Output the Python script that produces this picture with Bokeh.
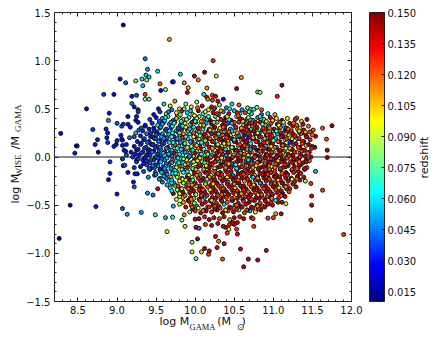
from bokeh.plotting import figure
from bokeh.models import (ColumnDataSource, LinearColorMapper, ColorBar, FixedTicker, LinearAxis,
                          Range1d, Label, PrintfTickFormatter, Span)
from bokeh.embed import file_html
from bokeh.resources import INLINE

# isolated points
mass = [9.08,9.67,9.36,9.39,9.52,9.04,9.11,9.24,9.32,9.37,9.41,9.38,9.33,9.55,9.71,9.72,9.81,9.86,9.99,10.04,9.91,9.90,9.56,9.62,
8.83,8.96,9.19,9.25,9.36,9.36,9.41,8.61,9.19,9.22,9.27,8.90,8.89,9.14,9.25,9.27,9.24,9.27,9.0,9.06,9.08,9.14,9.17,8.69,8.86,8.88,8.87,8.88,
8.28,8.75,8.72,8.48,8.49,8.46,8.76,8.96,9.0,8.99,9.05,9.06,9.07,9.16,9.22,9.24,9.28,9.31,9.36,9.07,9.12,9.09,9.11,9.12,8.91,9.07,9.08,9.10,9.22,9.25,
8.91,8.89,9.14,9.23,9.26,9.21,9.22,9.0,8.40,8.73,9.07,9.13,9.31,9.39,9.46,9.52,9.49,9.62,9.71,9.64,8.26,9.83,9.87,9.86,9.96,10.03,9.96,10.01,10.01,10.0,10.05,
11.90,11.48,11.49,11.49,11.63,11.48,11.41,11.54,10.62,10.35,10.68,10.80,10.91,10.58,10.37,10.28,10.30,10.26,10.18,10.17,10.12,10.08,11.10,11.03,11.0,10.93,10.75,10.72,10.74,10.54,10.53,10.54,10.5,10.43,10.41,10.39,11.16,11.11,11.06,10.99,
10.23,10.12,10.27,10.59,11.11,11.05,10.80,10.83,10.53,10.15,11.75,11.63,11.68,11.69,11.69,11.54,11.53,11.51,11.43,11.30,10.36,10.56,10.67,10.71,10.75,10.79,10.85,10.25,10.11,10.22,10.26,10.15,10.29,10.22]
ratio = [1.37,1.22,1.02,.91,.89,.81,.77,.79,.81,.85,.83,.80,.74,.76,.78,.78,.86,.77,.84,.80,.72,.67,.69,.70,
.65,.65,.63,.64,.65,.60,.60,.50,.555,.52,.49,.455,.38,.42,.42,.47,.38,.36,.35,.32,.34,.34,.31,.285,.29,.25,.20,.15,
.245,.18,.13,.115,.115,.04,.05,.11,.17,.13,.225,.185,.175,.20,.21,.25,.28,.30,.32,.12,.13,.07,.06,.02,-.05,-.02,-.09,-.085,-.11,-.03,
-.17,-.235,-.16,-.175,-.175,-.26,-.31,-.385,-.50,-.515,-.535,-.595,-.575,-.375,-.395,-.33,-.60,-.63,-.625,-.775,-.845,-.655,-.72,-.60,-.885,-.85,-.985,-1.055,-.73,-.645,-.74,
-.805,-.655,-.50,-.405,-.345,-.275,-.25,-.15,-1.14,-1.06,-1.06,-1.07,-.97,-.955,-.90,-.94,-.875,-.825,-.975,-1.01,-.95,-.985,-.59,-.59,-.63,-.635,-.72,-.63,-.64,-.80,-.75,-.68,-.70,-.75,-.79,-.73,-.485,-.47,-.47,-.50,
1.0,.88,.84,.825,.745,.63,.675,.67,.71,.715,.325,.30,.185,.07,-.005,.215,.10,.28,.39,.405,.60,.54,.51,.495,.495,.515,.49,.51,.65,.64,.63,.62,.58,.59]
redshift = [.02,.11,.045,.05,.06,.03,.04,.08,.06,.055,.06,.08,.055,.12,.03,.03,.06,.115,.14,.115,.11,.14,.025,.08,
.035,.025,.03,.04,.125,.08,.07,.025,.045,.03,.03,.03,.05,.025,.03,.035,.03,.03,.04,.04,.035,.03,.03,.035,.03,.03,.03,.035,
.025,.03,.03,.025,.025,.03,.025,.03,.03,.03,.03,.03,.03,.045,.04,.055,.045,.04,.05,.03,.03,.035,.03,.04,.035,.035,.03,.04,.035,.04,
.03,.03,.03,.03,.03,.03,.04,.03,.025,.03,.04,.05,.05,.05,.045,.135,.065,.055,.07,.10,.015,.08,.085,.115,.08,.145,.10,.08,.14,.14,.045,
.125,.125,.14,.135,.125,.125,.085,.055,.14,.12,.14,.14,.14,.135,.14,.135,.115,.135,.14,.125,.14,.105,.14,.11,.125,.125,.125,.14,.125,.135,.125,.14,.14,.09,.125,.14,.095,.14,.14,.14,
.125,.145,.09,.11,.145,.13,.075,.09,.14,.11,.145,.12,.12,.14,.145,.14,.14,.12,.14,.12,.03,.12,.08,.065,.07,.08,.12,.08,.06,.125,.14,.14,.14,.125]

# dense body of the cloud
mass += [9.53,9.60,9.68,9.74,9.80,9.88,9.95,10.02,10.09,10.16,10.24,10.31,10.40,10.47,10.60]
ratio += [.50,.55,.53,.58,.50,.55,.52,.57,.53,.60,.50,.54,.51,.55,.49]
redshift += [.03,.06,.10,.11,.09,.08,.10,.085,.14,.115,.13,.08,.05,.06,.05]

mass += [9.47,9.55,9.63,9.70,9.77,9.83,9.90,9.97,10.04,10.10,10.17,10.23,10.30,10.36,10.43,10.50,10.57,10.64,10.72,10.85,10.93,11.02]
ratio += [.44,.47,.45,.49,.44,.48,.46,.44,.48,.45,.49,.46,.44,.47,.45,.48,.45,.46,.45,.44,.45,.44]
redshift += [.03,.035,.08,.045,.07,.13,.06,.09,.14,.07,.10,.14,.12,.05,.14,.055,.07,.125,.06,.045,.065,.11]

mass += [9.42,9.50,9.58,9.65,9.72,9.79,9.85,9.92,9.99,10.05,10.12,10.19,10.26,10.33,10.39,10.46,10.53,10.60,10.67,10.74,10.80,10.88,10.96,11.04,11.11,11.18,11.28,11.36]
ratio += [.39,.41,.40,.42,.38,.42,.39,.41,.38,.42,.40,.38,.42,.39,.41,.38,.42,.39,.40,.38,.41,.39,.41,.40,.38,.40,.39,.37]
redshift += [.035,.03,.05,.075,.04,.09,.11,.065,.14,.08,.12,.145,.07,.13,.03,.14,.085,.14,.10,.05,.12,.075,.135,.09,.145,.10,.13,.105]

mass += [9.36,9.45,9.52,9.60,9.67,9.74,9.81,9.87,9.94,10.01,10.07,10.14,10.21,10.28,10.35,10.42,10.49,10.56,10.62,10.69,10.76,10.83,10.90,10.97,11.05,11.13,11.21,11.30,11.38,11.45]
ratio += [.33,.35,.33,.36,.34,.36,.33,.35,.34,.36,.33,.35,.34,.36,.33,.35,.34,.36,.33,.35,.34,.36,.33,.35,.34,.33,.35,.33,.34,.32]
redshift += [.03,.035,.06,.03,.05,.08,.04,.10,.07,.13,.09,.055,.14,.11,.14,.04,.12,.13,.08,.145,.11,.14,.07,.125,.14,.06,.14,.12,.14,.115]

mass += [9.33,9.41,9.48,9.55,9.62,9.69,9.76,9.83,9.90,9.96,10.03,10.10,10.17,10.24,10.31,10.38,10.45,10.52,10.59,10.66,10.72,10.79,10.86,10.93,11.00,11.08,11.15,11.23,11.31,11.39,11.47]
ratio += [.27,.29,.27,.30,.28,.30,.27,.29,.28,.30,.27,.29,.27,.30,.28,.29,.27,.30,.28,.29,.27,.30,.28,.29,.27,.30,.28,.27,.29,.28,.26]
redshift += [.035,.03,.04,.025,.055,.035,.06,.14,.08,.05,.11,.07,.145,.12,.09,.14,.13,.05,.14,.105,.14,.06,.13,.14,.09,.14,.035,.13,.11,.14,.125]

mass += [9.30,9.38,9.45,9.52,9.59,9.66,9.73,9.80,9.87,9.93,10.0,10.07,10.14,10.21,10.28,10.35,10.42,10.49,10.56,10.63,10.70,10.77,10.84,10.91,10.98,11.05,11.12,11.19,11.27,11.35,11.43,11.50]
ratio += [.22,.24,.21,.24,.22,.24,.21,.23,.22,.24,.21,.23,.22,.24,.21,.23,.22,.24,.21,.23,.22,.24,.21,.23,.22,.24,.21,.23,.22,.24,.21,.23]
redshift += [.03,.045,.035,.05,.03,.06,.035,.055,.09,.06,.14,.08,.11,.135,.07,.12,.145,.10,.14,.03,.13,.14,.08,.14,.12,.055,.14,.09,.14,.125,.14,.12]

mass += [9.26,9.34,9.41,9.48,9.55,9.62,9.69,9.76,9.83,9.89,9.96,10.03,10.10,10.17,10.24,10.31,10.38,10.45,10.52,10.59,10.66,10.73,10.80,10.87,10.94,11.01,11.08,11.15,11.23,11.31,11.39,11.47]
ratio += [.16,.18,.16,.19,.17,.18,.16,.18,.17,.19,.16,.18,.17,.19,.16,.18,.17,.19,.16,.18,.17,.19,.16,.18,.17,.19,.16,.18,.17,.19,.16,.18]
redshift += [.03,.04,.03,.05,.035,.03,.055,.04,.065,.085,.135,.055,.10,.14,.075,.13,.14,.05,.145,.11,.14,.12,.14,.06,.14,.13,.14,.10,.14,.085,.14,.13]

mass += [9.22,9.30,9.37,9.44,9.51,9.58,9.65,9.72,9.79,9.86,9.93,10.0,10.06,10.13,10.20,10.27,10.34,10.41,10.48,10.55,10.62,10.69,10.76,10.83,10.90,10.97,11.04,11.11,11.18,11.26,11.34,11.42,11.50]
ratio += [.11,.13,.10,.13,.11,.13,.10,.12,.11,.13,.10,.12,.11,.13,.10,.12,.11,.13,.10,.12,.11,.13,.10,.12,.11,.13,.10,.12,.11,.13,.10,.12,.11]
redshift += [.03,.035,.04,.03,.05,.04,.14,.055,.06,.045,.075,.11,.14,.06,.12,.145,.09,.135,.14,.105,.03,.14,.125,.14,.07,.14,.115,.14,.045,.13,.14,.105,.14]

mass += [9.18,9.25,9.33,9.40,9.47,9.54,9.61,9.68,9.75,9.82,9.89,9.95,10.02,10.09,10.16,10.23,10.30,10.37,10.44,10.51,10.58,10.65,10.72,10.79,10.86,10.93,11.00,11.07,11.14,11.22,11.30,11.38,11.46]
ratio += [.05,.07,.05,.08,.06,.07,.05,.07,.06,.08,.05,.07,.06,.08,.05,.07,.06,.08,.05,.07,.06,.08,.05,.07,.06,.08,.05,.07,.06,.08,.05,.07,.05]
redshift += [.03,.03,.035,.04,.03,.05,.035,.06,.05,.13,.07,.045,.095,.14,.12,.07,.14,.135,.11,.14,.06,.145,.10,.14,.13,.14,.075,.14,.12,.14,.105,.14,.135]

mass += [9.20,9.28,9.35,9.42,9.49,9.56,9.63,9.70,9.77,9.84,9.91,9.98,10.05,10.12,10.19,10.26,10.33,10.40,10.47,10.54,10.61,10.68,10.75,10.82,10.89,10.96,11.03,11.10,11.17,11.25,11.33,11.41,11.48]
ratio += [.00,.02,-.01,.02,.00,.02,-.01,.01,.00,.02,-.01,.01,.00,.02,-.01,.01,.00,.02,-.01,.01,.00,.02,-.01,.01,.00,.02,-.01,.01,.00,.02,-.01,.01,.00]
redshift += [.035,.03,.04,.035,.05,.04,.06,.045,.12,.065,.055,.085,.14,.075,.11,.145,.13,.05,.14,.12,.14,.09,.14,.145,.115,.14,.13,.14,.07,.14,.125,.14,.145]

mass += [9.25,9.33,9.40,9.47,9.54,9.61,9.68,9.75,9.82,9.89,9.95,10.02,10.09,10.16,10.23,10.30,10.37,10.44,10.51,10.58,10.65,10.72,10.79,10.86,10.93,11.00,11.07,11.14,11.22,11.30,11.38,11.46]
ratio += [-.05,-.03,-.06,-.03,-.05,-.03,-.06,-.04,-.05,-.03,-.06,-.04,-.05,-.03,-.06,-.04,-.05,-.03,-.06,-.04,-.05,-.03,-.06,-.04,-.05,-.03,-.06,-.04,-.05,-.03,-.06,-.04]
redshift += [.035,.03,.045,.035,.03,.05,.04,.06,.055,.10,.07,.13,.09,.14,.125,.06,.14,.145,.11,.14,.13,.035,.14,.12,.14,.145,.105,.14,.13,.14,.14,.12]

mass += [9.30,9.38,9.45,9.52,9.59,9.66,9.73,9.80,9.87,9.93,10.0,10.07,10.14,10.21,10.28,10.35,10.42,10.49,10.56,10.63,10.70,10.77,10.84,10.91,10.98,11.05,11.12,11.19,11.27,11.35,11.43]
ratio += [-.10,-.08,-.11,-.09,-.10,-.08,-.11,-.09,-.10,-.08,-.11,-.09,-.10,-.08,-.11,-.09,-.10,-.08,-.11,-.09,-.10,-.08,-.11,-.09,-.10,-.08,-.11,-.09,-.10,-.08,-.11]
redshift += [.03,.04,.035,.05,.04,.045,.06,.12,.07,.055,.09,.14,.08,.13,.14,.11,.145,.13,.14,.07,.14,.125,.14,.145,.10,.14,.13,.14,.145,.14,.125]

mass += [9.34,9.42,9.49,9.56,9.63,9.70,9.77,9.84,9.90,9.97,10.04,10.11,10.18,10.25,10.32,10.39,10.46,10.53,10.60,10.67,10.74,10.81,10.88,10.95,11.02,11.09,11.16,11.24,11.32,11.40]
ratio += [-.15,-.13,-.16,-.14,-.15,-.13,-.16,-.14,-.15,-.13,-.16,-.14,-.15,-.13,-.16,-.14,-.15,-.13,-.16,-.14,-.15,-.13,-.16,-.14,-.15,-.13,-.16,-.14,-.15,-.13]
redshift += [.04,.035,.045,.05,.04,.07,.055,.10,.065,.14,.085,.12,.14,.11,.145,.13,.14,.05,.14,.13,.145,.105,.14,.14,.125,.14,.145,.13,.14,.14]

mass += [9.40,9.48,9.55,9.62,9.69,9.76,9.83,9.90,9.96,10.03,10.10,10.17,10.24,10.31,10.38,10.45,10.52,10.59,10.66,10.73,10.80,10.87,10.94,11.01,11.08,11.15,11.23,11.31,11.39]
ratio += [-.21,-.19,-.22,-.19,-.21,-.19,-.22,-.20,-.21,-.19,-.22,-.20,-.21,-.19,-.22,-.20,-.21,-.19,-.22,-.20,-.21,-.19,-.22,-.20,-.21,-.19,-.22,-.20,-.21]
redshift += [.05,.04,.055,.05,.11,.065,.08,.12,.09,.14,.105,.14,.125,.14,.145,.11,.14,.13,.14,.145,.06,.14,.12,.145,.14,.13,.14,.125,.14]

mass += [9.58,9.66,9.73,9.80,9.87,9.93,10.0,10.07,10.14,10.21,10.28,10.35,10.42,10.49,10.56,10.63,10.70,10.77,10.84,10.91,10.98,11.05,11.12,11.19,11.27,11.34]
ratio += [-.26,-.24,-.27,-.25,-.26,-.24,-.27,-.25,-.26,-.24,-.27,-.25,-.26,-.24,-.27,-.25,-.26,-.24,-.27,-.25,-.26,-.24,-.27,-.25,-.26,-.24]
redshift += [.045,.06,.055,.10,.07,.145,.12,.14,.085,.13,.14,.145,.12,.14,.14,.11,.14,.13,.145,.14,.125,.14,.06,.14,.13,.14]

mass += [9.68,9.75,9.82,9.89,9.95,10.02,10.09,10.16,10.23,10.30,10.37,10.44,10.51,10.58,10.65,10.72,10.79,10.86,10.93,11.00,11.07,11.14,11.21,11.29]
ratio += [-.32,-.30,-.33,-.31,-.32,-.30,-.33,-.31,-.32,-.30,-.33,-.31,-.32,-.30,-.33,-.31,-.32,-.30,-.33,-.31,-.32,-.30,-.33,-.31]
redshift += [.06,.09,.14,.13,.145,.09,.14,.12,.14,.13,.145,.14,.105,.14,.14,.125,.14,.13,.14,.145,.09,.14,.13,.14]

mass += [9.72,9.79,9.86,9.93,10.0,10.07,10.14,10.21,10.28,10.35,10.42,10.49,10.56,10.63,10.70,10.77,10.84,10.91,10.98,11.05,11.12,11.20]
ratio += [-.38,-.36,-.39,-.37,-.38,-.36,-.39,-.37,-.38,-.36,-.39,-.37,-.38,-.36,-.39,-.37,-.38,-.36,-.39,-.37,-.38,-.36]
redshift += [.145,.06,.075,.14,.11,.14,.05,.14,.13,.145,.12,.14,.04,.14,.145,.125,.14,.14,.13,.14,.145,.125]

mass += [9.76,9.84,9.91,9.98,10.05,10.12,10.19,10.26,10.33,10.40,10.47,10.54,10.61,10.68,10.75,10.82,10.89,10.96,11.03]
ratio += [-.44,-.42,-.45,-.43,-.44,-.42,-.45,-.43,-.44,-.42,-.45,-.43,-.44,-.42,-.45,-.43,-.44,-.42,-.45]
redshift += [.09,.11,.145,.09,.14,.05,.13,.14,.145,.125,.14,.14,.03,.14,.13,.14,.145,.14,.06]

mass += [9.72,9.80,9.88,9.95,10.02,10.09,10.16,10.23,10.30,10.37,10.44,10.51,10.58,10.65,10.72,10.79,10.86,10.93]
ratio += [-.51,-.49,-.52,-.50,-.51,-.49,-.52,-.50,-.51,-.49,-.52,-.50,-.51,-.49,-.52,-.50,-.51,-.49]
redshift += [.055,.09,.14,.115,.05,.14,.13,.145,.14,.06,.14,.125,.145,.14,.13,.14,.12,.14]

mass += [9.93,10.0,10.07,10.14,10.21,10.28,10.35,10.42,10.49,10.56,10.63,10.70,10.77,10.84]
ratio += [-.57,-.56,-.58,-.56,-.57,-.55,-.58,-.56,-.57,-.55,-.58,-.56,-.57,-.55]
redshift += [.08,.125,.14,.14,.13,.14,.145,.12,.14,.08,.125,.055,.095,.14]

mass += [10.05,10.12,10.18,10.24,10.31,10.37,10.44,10.50,10.57,10.62]
ratio += [-.64,-.62,-.65,-.63,-.64,-.62,-.65,-.63,-.62,-.64]
redshift += [.14,.13,.145,.14,.125,.14,.11,.14,.13,.14]

mass += [10.13,10.21,10.29,10.36,10.44,10.48]
ratio += [-.70,-.71,-.69,-.72,-.70,-.68]
redshift += [.125,.14,.135,.14,.13,.14]

# second pass over the dense body, between the first rows
mass += [9.66,9.76,9.86,9.94,10.03,10.13,10.21,10.33,10.44,10.54,10.69]
ratio += [.47,.46,.50,.48,.51,.47,.52,.48,.50,.46,.47]
redshift += [.045,.10,.07,.055,.12,.09,.14,.11,.065,.13,.075]

mass += [9.54,9.61,9.69,9.76,9.82,9.89,9.96,10.02,10.08,10.15,10.22,10.29,10.37,10.43,10.50,10.57,10.63,10.70,10.77,10.84,10.91,10.99,11.08]
ratio += [.37,.38,.36,.40,.37,.39,.36,.40,.37,.39,.36,.40,.37,.39,.36,.40,.37,.39,.36,.40,.37,.38,.36]
redshift += [.04,.06,.05,.11,.065,.08,.14,.09,.115,.055,.13,.09,.145,.07,.12,.14,.045,.11,.14,.085,.105,.14,.125]

mass += [9.47,9.56,9.63,9.71,9.78,9.84,9.91,9.98,10.04,10.11,10.18,10.25,10.32,10.38,10.45,10.52,10.59,10.65,10.72,10.79,10.87,10.94,11.01,11.09,11.17,11.25,11.34]
ratio += [.30,.31,.29,.32,.30,.32,.29,.31,.30,.32,.29,.31,.30,.32,.29,.31,.30,.32,.29,.31,.30,.32,.29,.31,.30,.32,.30]
redshift += [.03,.05,.045,.065,.04,.075,.10,.06,.135,.08,.12,.145,.10,.14,.055,.13,.11,.14,.075,.14,.125,.05,.14,.115,.13,.14,.10]

mass += [9.43,9.51,9.58,9.64,9.71,9.78,9.85,9.91,9.98,10.05,10.12,10.19,10.26,10.33,10.40,10.47,10.54,10.61,10.68,10.75,10.82,10.89,10.96,11.03,11.10,11.17,11.25,11.33,11.41]
ratio += [.25,.26,.24,.27,.25,.26,.24,.27,.25,.26,.24,.27,.25,.26,.24,.27,.25,.26,.24,.27,.25,.26,.24,.27,.25,.26,.24,.26,.24]
redshift += [.035,.03,.05,.04,.065,.05,.11,.07,.12,.055,.14,.09,.14,.125,.145,.06,.11,.14,.13,.145,.05,.12,.14,.10,.14,.13,.145,.12,.14]

mass += [9.35,9.43,9.50,9.57,9.64,9.70,9.77,9.84,9.91,9.98,10.05,10.12,10.19,10.26,10.33,10.40,10.47,10.54,10.61,10.68,10.75,10.82,10.89,10.96,11.03,11.10,11.17,11.25,11.33,11.42]
ratio += [.19,.21,.19,.21,.20,.21,.19,.20,.19,.21,.19,.20,.19,.21,.19,.20,.19,.21,.19,.20,.19,.21,.19,.20,.19,.21,.19,.20,.19,.21]
redshift += [.035,.03,.04,.055,.04,.07,.05,.13,.06,.10,.08,.14,.12,.06,.14,.125,.145,.115,.14,.03,.13,.14,.11,.14,.055,.14,.125,.14,.13,.14]

mass += [9.31,9.39,9.46,9.53,9.60,9.67,9.74,9.81,9.87,9.94,10.01,10.08,10.15,10.22,10.29,10.36,10.43,10.50,10.57,10.64,10.71,10.78,10.85,10.92,10.99,11.06,11.13,11.21,11.29,11.37,11.45]
ratio += [.14,.15,.13,.16,.14,.15,.13,.15,.14,.16,.13,.15,.14,.16,.13,.15,.14,.16,.13,.15,.14,.16,.13,.15,.14,.16,.13,.15,.14,.16,.13]
redshift += [.03,.04,.03,.045,.035,.06,.12,.05,.075,.05,.10,.065,.13,.14,.09,.145,.11,.14,.125,.14,.065,.13,.14,.11,.14,.12,.14,.035,.14,.125,.14]

mass += [9.27,9.35,9.42,9.49,9.56,9.63,9.70,9.77,9.84,9.90,9.97,10.04,10.11,10.18,10.25,10.32,10.39,10.46,10.53,10.60,10.67,10.74,10.81,10.88,10.95,11.02,11.09,11.16,11.24,11.32,11.40,11.49]
ratio += [.08,.09,.07,.10,.08,.09,.07,.09,.08,.10,.07,.09,.08,.10,.07,.09,.08,.10,.07,.09,.08,.10,.07,.09,.08,.10,.07,.09,.08,.10,.07,.09]
redshift += [.03,.035,.04,.035,.05,.045,.055,.07,.045,.09,.06,.12,.08,.14,.105,.14,.06,.125,.14,.145,.11,.14,.03,.13,.14,.12,.14,.085,.14,.125,.14,.13]

mass += [9.23,9.31,9.38,9.45,9.52,9.59,9.66,9.73,9.80,9.87,9.94,10.0,10.07,10.14,10.21,10.28,10.35,10.42,10.49,10.56,10.63,10.70,10.77,10.84,10.91,10.98,11.05,11.12,11.19,11.27,11.35,11.44]
ratio += [.03,.04,.02,.05,.03,.04,.02,.04,.03,.05,.02,.04,.03,.05,.02,.04,.03,.05,.02,.04,.03,.05,.02,.04,.03,.05,.02,.04,.03,.05,.02,.04]
redshift += [.03,.035,.03,.045,.035,.055,.04,.14,.06,.05,.08,.14,.10,.125,.06,.14,.13,.145,.09,.14,.12,.14,.145,.07,.14,.125,.14,.105,.14,.13,.14,.12]

mass += [9.27,9.36,9.43,9.50,9.57,9.64,9.71,9.78,9.85,9.92,9.99,10.06,10.13,10.20,10.27,10.34,10.41,10.48,10.55,10.62,10.69,10.76,10.83,10.90,10.97,11.04,11.11,11.18,11.26,11.34,11.42]
ratio += [-.02,-.01,-.03,.00,-.02,-.01,-.03,-.01,-.02,.00,-.03,-.01,-.02,.00,-.03,-.01,-.02,.00,-.03,-.01,-.02,.00,-.03,-.01,-.02,.00,-.03,-.01,-.02,.00,-.03]
redshift += [.035,.03,.04,.05,.04,.055,.125,.06,.08,.065,.14,.10,.14,.12,.14,.09,.145,.13,.14,.11,.14,.125,.05,.14,.13,.14,.145,.12,.14,.13,.14]

mass += [9.34,9.42,9.49,9.56,9.63,9.70,9.77,9.84,9.91,9.98,10.05,10.12,10.19,10.26,10.33,10.40,10.47,10.54,10.61,10.68,10.75,10.82,10.89,10.96,11.03,11.10,11.17,11.25,11.33,11.42]
ratio += [-.07,-.06,-.08,-.05,-.07,-.06,-.08,-.06,-.07,-.05,-.08,-.06,-.07,-.05,-.08,-.06,-.07,-.05,-.08,-.06,-.07,-.05,-.08,-.06,-.07,-.05,-.08,-.06,-.07,-.05]
redshift += [.03,.04,.035,.055,.045,.05,.075,.06,.115,.09,.12,.07,.14,.13,.145,.125,.04,.14,.11,.14,.13,.145,.115,.14,.125,.14,.06,.14,.13,.14]

mass += [9.41,9.48,9.55,9.62,9.69,9.76,9.83,9.90,9.97,10.04,10.11,10.18,10.25,10.32,10.39,10.46,10.53,10.60,10.67,10.74,10.81,10.88,10.95,11.02,11.09,11.16,11.24,11.32,11.40]
ratio += [-.12,-.11,-.13,-.10,-.12,-.11,-.13,-.11,-.12,-.10,-.13,-.11,-.12,-.10,-.13,-.11,-.12,-.10,-.13,-.11,-.12,-.10,-.13,-.11,-.12,-.10,-.13,-.11,-.12]
redshift += [.04,.045,.03,.06,.05,.09,.065,.13,.075,.14,.11,.145,.09,.14,.125,.14,.06,.13,.14,.11,.14,.145,.12,.14,.13,.14,.125,.14,.14]

mass += [9.50,9.57,9.64,9.71,9.78,9.85,9.92,9.99,10.06,10.13,10.20,10.27,10.34,10.41,10.48,10.55,10.62,10.69,10.76,10.83,10.90,10.97,11.04,11.11,11.18,11.26,11.35]
ratio += [-.18,-.16,-.18,-.17,-.18,-.16,-.19,-.17,-.18,-.16,-.19,-.17,-.18,-.16,-.19,-.17,-.18,-.16,-.19,-.17,-.18,-.16,-.19,-.17,-.18,-.16,-.17]
redshift += [.045,.055,.05,.06,.10,.075,.09,.14,.12,.145,.10,.14,.13,.14,.05,.145,.125,.14,.11,.14,.145,.13,.14,.12,.14,.13,.14]

mass += [9.54,9.63,9.70,9.77,9.84,9.90,9.97,10.04,10.11,10.18,10.25,10.32,10.39,10.46,10.53,10.60,10.67,10.74,10.81,10.88,10.95,11.02,11.09,11.16,11.24,11.31]
ratio += [-.23,-.22,-.24,-.21,-.23,-.22,-.24,-.22,-.23,-.21,-.24,-.22,-.23,-.21,-.24,-.22,-.23,-.21,-.24,-.22,-.23,-.21,-.24,-.22,-.23,-.21]
redshift += [.05,.045,.06,.085,.10,.14,.075,.13,.145,.11,.14,.125,.14,.145,.12,.14,.13,.06,.14,.145,.125,.14,.13,.14,.09,.14]

mass += [9.64,9.71,9.78,9.85,9.92,9.99,10.06,10.13,10.20,10.27,10.34,10.41,10.48,10.55,10.62,10.69,10.76,10.83,10.90,10.97,11.04,11.11,11.18,11.25]
ratio += [-.29,-.28,-.30,-.27,-.29,-.28,-.30,-.28,-.29,-.27,-.30,-.28,-.29,-.27,-.30,-.28,-.29,-.27,-.30,-.28,-.29,-.27,-.30,-.28]
redshift += [.055,.07,.125,.09,.115,.13,.14,.105,.14,.145,.12,.14,.13,.14,.145,.125,.14,.05,.14,.13,.14,.145,.12,.14]

mass += [9.70,9.77,9.84,9.91,9.98,10.05,10.12,10.19,10.26,10.33,10.40,10.47,10.54,10.61,10.68,10.75,10.82,10.89,10.96,11.03,11.10,11.17]
ratio += [-.35,-.34,-.36,-.33,-.35,-.34,-.36,-.34,-.35,-.33,-.36,-.34,-.35,-.33,-.36,-.34,-.35,-.33,-.36,-.34,-.35,-.33]
redshift += [.06,.08,.14,.12,.145,.13,.14,.10,.14,.125,.145,.14,.13,.14,.12,.145,.14,.13,.14,.125,.14,.13]

mass += [9.80,9.87,9.94,10.01,10.08,10.15,10.22,10.29,10.36,10.43,10.50,10.57,10.64,10.71,10.78,10.85,10.92,10.99,11.07,11.15]
ratio += [-.41,-.40,-.42,-.39,-.41,-.40,-.42,-.40,-.41,-.39,-.42,-.40,-.41,-.39,-.42,-.40,-.41,-.39,-.42,-.41]
redshift += [.085,.12,.14,.09,.145,.13,.14,.125,.14,.145,.11,.14,.13,.14,.145,.14,.125,.14,.13,.14]

mass += [9.85,9.92,9.99,10.06,10.13,10.20,10.27,10.34,10.41,10.48,10.55,10.62,10.69,10.76,10.83,10.90,10.97]
ratio += [-.47,-.46,-.48,-.45,-.47,-.46,-.48,-.46,-.47,-.45,-.48,-.46,-.47,-.45,-.48,-.46,-.47]
redshift += [.11,.14,.08,.125,.14,.145,.13,.14,.12,.14,.14,.13,.145,.14,.125,.14,.13]

mass += [9.97,10.04,10.11,10.18,10.25,10.32,10.39,10.46,10.53,10.60,10.67,10.74,10.81,10.89]
ratio += [-.54,-.53,-.55,-.52,-.54,-.53,-.55,-.53,-.54,-.52,-.55,-.53,-.54,-.52]
redshift += [.14,.10,.14,.13,.14,.125,.145,.14,.13,.14,.12,.14,.13,.14]

# third pass, looser, over the busiest part of the cloud
mass += [9.62,9.81,9.99,10.17,10.28,10.41,10.55,10.68,10.83,10.99,11.13,11.26]
ratio += [.41,.44,.43,.42,.45,.42,.43,.41,.42,.38,.36,.35]
redshift += [.06,.08,.09,.07,.13,.10,.12,.08,.065,.105,.085,.115]

mass += [9.58,9.73,9.88,10.0,10.11,10.24,10.36,10.47,10.61,10.73,10.86,10.95,11.07,11.19,11.33]
ratio += [.34,.35,.31,.37,.33,.36,.31,.35,.37,.32,.34,.30,.33,.29,.27]
redshift += [.05,.07,.09,.065,.11,.08,.12,.055,.105,.125,.07,.115,.09,.12,.105]

mass += [9.50,9.67,9.80,9.93,10.06,10.19,10.30,10.43,10.56,10.66,10.80,10.92,11.04,11.16,11.28,11.41]
ratio += [.23,.27,.25,.29,.22,.28,.24,.26,.22,.28,.25,.23,.27,.24,.22,.26]
redshift += [.04,.06,.075,.055,.09,.105,.065,.12,.045,.13,.10,.125,.07,.115,.13,.11]

mass += [9.46,9.60,9.72,9.88,10.02,10.13,10.27,10.37,10.50,10.63,10.74,10.88,11.00,11.12,11.24,11.37]
ratio += [.13,.19,.15,.21,.12,.17,.20,.14,.18,.12,.20,.15,.17,.12,.19,.14]
redshift += [.035,.05,.065,.07,.105,.085,.12,.10,.06,.125,.11,.13,.08,.12,.105,.125]

mass += [9.40,9.55,9.68,9.82,9.95,10.08,10.22,10.33,10.47,10.58,10.71,10.83,10.97,11.09,11.21,11.36]
ratio += [.06,.10,.04,.08,.11,.03,.09,.06,.10,.04,.08,.06,.11,.03,.09,.06]
redshift += [.03,.045,.05,.06,.085,.07,.11,.125,.09,.115,.05,.125,.10,.13,.11,.125]

mass += [9.38,9.52,9.66,9.79,9.93,10.03,10.16,10.29,10.43,10.55,10.68,10.79,10.92,11.06,11.20,11.33]
ratio += [-.04,-.01,.03,-.06,.01,-.04,.03,-.02,-.07,.02,-.03,-.06,.02,-.04,.01,-.05]
redshift += [.035,.04,.055,.07,.05,.10,.08,.12,.105,.125,.06,.115,.13,.105,.125,.115]

mass += [9.46,9.61,9.74,9.87,10.01,10.14,10.25,10.39,10.52,10.64,10.78,10.90,11.02,11.15,11.30]
ratio += [-.09,-.12,-.14,-.08,-.13,-.09,-.15,-.11,-.08,-.14,-.09,-.13,-.11,-.08,-.12]
redshift += [.045,.05,.065,.08,.11,.095,.125,.115,.07,.13,.105,.125,.115,.13,.12]

mass += [9.60,9.75,9.88,10.02,10.15,10.29,10.41,10.55,10.67,10.80,10.93,11.06,11.18,11.30]
ratio += [-.20,-.17,-.24,-.19,-.23,-.17,-.21,-.24,-.17,-.22,-.18,-.24,-.19,-.23]
redshift += [.05,.065,.09,.115,.075,.125,.105,.12,.13,.115,.125,.105,.13,.12]

mass += [9.70,9.83,9.96,10.10,10.23,10.36,10.50,10.62,10.75,10.88,11.02,11.16]
ratio += [-.27,-.33,-.29,-.34,-.28,-.33,-.28,-.34,-.29,-.33,-.27,-.31]
redshift += [.06,.085,.11,.12,.095,.125,.115,.13,.105,.125,.12,.115]

mass += [9.80,9.95,10.08,10.21,10.34,10.47,10.59,10.72,10.85,10.98,11.10]
ratio += [-.38,-.44,-.40,-.45,-.39,-.43,-.38,-.44,-.39,-.43,-.40]
redshift += [.10,.115,.125,.105,.12,.13,.11,.125,.12,.115,.125]

mass += [9.96,10.10,10.25,10.39,10.53,10.66,10.80]
ratio += [-.52,-.56,-.51,-.55,-.50,-.55,-.51]
redshift += [.12,.115,.125,.105,.12,.125,.115]

x_ticks = [8.5, 9.0, 9.5, 10.0, 10.5, 11.0, 11.5, 12.0]
x_tick_labels = {8.5: "8.5", 9.0: "9.0", 9.5: "9.5", 10.0: "10.0", 10.5: "10.5", 11.0: "11.0", 11.5: "11.5", 12.0: "12.0"}
y_ticks = [-1.5, -1.0, -0.5, 0.0, 0.5, 1.0, 1.5]
y_tick_labels = {-1.5: "\u22121.5", -1.0: "\u22121.0", -0.5: "\u22120.5", 0.0: "0.0", 0.5: "0.5", 1.0: "1.0", 1.5: "1.5"}
cbar_ticks = [0.015, 0.030, 0.045, 0.060, 0.075, 0.090, 0.105, 0.120, 0.135, 0.150]

def jet(t):
    def ch(a):
        return int(255 * max(0.0, min(1.0, 1.5 - abs(4 * t - a))))
    return "#%02x%02x%02x" % (ch(3), ch(2), ch(1))
palette = [jet(i / 255) for i in range(256)]
mapper = LinearColorMapper(palette=palette, low=0.0102, high=0.15)

p = figure(width=436, height=339, output_backend="svg", toolbar_location=None,
           x_range=Range1d(8.2, 12.0), y_range=Range1d(-1.5, 1.5),
           min_border_left=53, min_border_right=85, min_border_top=12, min_border_bottom=38)
p.grid.visible = False
p.outline_line_color = "#222222"
p.outline_line_width = 1

axes = [p.xaxis[0], p.yaxis[0]]
for a, t in [(LinearAxis(), "above"), (LinearAxis(), "right")]:
    p.add_layout(a, t)
    axes.append(a)
for i, a in enumerate(axes):
    a.ticker = FixedTicker(ticks=(x_ticks if i in (0, 2) else y_ticks),
                           minor_ticks=[round(-1.5 + k * 0.1, 1) for k in range(31)] if i in (1, 3)
                           else [round(8.2 + k * 0.1, 1) for k in range(39)])
    a.major_tick_in = 4
    a.major_tick_out = 0
    a.minor_tick_in = 2
    a.minor_tick_out = 0
    a.major_tick_line_color = "#222222"
    a.minor_tick_line_color = "#222222"
    a.axis_line_color = "#222222"
    a.major_label_text_font = "DejaVu Sans"
    a.major_label_text_font_size = "10px"
    a.major_label_text_color = "#111111"
    a.major_label_standoff = 4
axes[0].major_label_overrides = x_tick_labels
axes[1].major_label_overrides = y_tick_labels
for a in axes[2:]:
    a.major_label_text_font_size = "0px"
    a.major_label_text_color = None
    a.major_label_standoff = 0
    a.axis_line_color = None

p.add_layout(Span(location=0, dimension="width", line_color="#666666", line_width=1.5, level="underlay"))

src = ColumnDataSource(dict(mass=mass, ratio=ratio, redshift=redshift))
p.scatter("mass", "ratio", source=src, size=4, line_color="#111111", line_width=1,
          fill_color={"field": "redshift", "transform": mapper})

cb = ColorBar(color_mapper=mapper, ticker=FixedTicker(ticks=cbar_ticks), width=15, height="auto",
              padding=0, margin=0, location=(18, 0), bar_line_color="#222222", bar_line_width=1,
              major_tick_in=3, major_tick_out=0, major_tick_line_color="#222222",
              major_label_text_font="DejaVu Sans", major_label_text_font_size="10px",
              major_label_text_color="#111111", label_standoff=3,
              formatter=PrintfTickFormatter(format="%.3f"))
p.add_layout(cb, "right")

NB = "\u00a0"
def txt(side, x, y, s, size="11px", font="DejaVu Sans", angle=0.0):
    p.add_layout(Label(x=x, y=y, x_units="screen", y_units="screen", text=s, text_font=font,
                       text_font_size=size, angle=angle, text_baseline="alphabetic",
                       text_color="#111111"), side)

# x axis label, main text and subscripts in their own panels
txt("below", 105, 8, "log M" + NB * 8 + "(M" + NB * 3 + ")", "11px")
txt("below", 135, 13, "GAMA" + NB * 10 + "\u2299", "8.5px", "Liberation Serif")
# y axis label
txt("left", 5, 98, "log M" + NB * 7 + "/M", "11px", angle=1.5708)
txt("left", 18, 125, "WISE" + NB * 10 + "GAMA", "9px", "Liberation Serif", angle=1.5708)
# colour bar title
txt("right", 5, 123, "redshift", "11px", angle=1.5708)

open("out.html", "w").write(file_html(p, INLINE))
